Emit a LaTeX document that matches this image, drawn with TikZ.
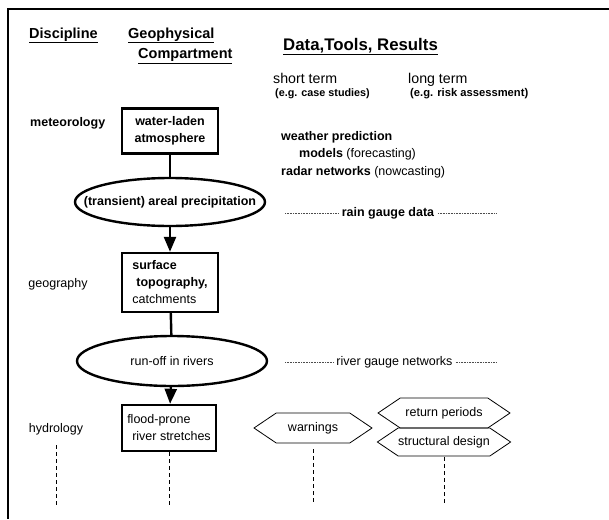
\documentclass[tikz,border=0pt]{standalone}
\usepackage{fontspec}
\setmainfont{Liberation Sans}
\usetikzlibrary{shapes.geometric,shapes.symbols,arrows.meta}

\begin{document}
\begin{tikzpicture}[x=1pt,y=-1pt,
	txt/.style={inner sep=0pt, font=\fontsize{12.5}{17}\selectfont},
	colhead/.style={inner sep=0pt, anchor=base west, font=\bfseries\fontsize{14.5}{21}\selectfont},
	comp/.style={draw, line width=2.4pt, inner sep=0pt, font=\fontsize{12.5}{17}\selectfont},
	flow/.style={draw, ellipse, line width=2.4pt, inner sep=0pt, minimum width=190pt, font=\fontsize{12.5}{17}\selectfont},
	hex/.style={draw, signal, signal to=west and east, signal pointer angle=68, line width=0.8pt, inner sep=0pt, minimum width=132pt, minimum height=29pt, font=\fontsize{12.5}{17}\selectfont},
	link/.style={line width=2.4pt},
	flowarrow/.style={line width=2.4pt, -{Triangle[width=12pt,length=15pt]}},
	gauge/.style={densely dotted, line width=0.6pt, black!70},
	tail/.style={line width=0.8pt, dash pattern=on 4pt off 3pt}]
	\useasboundingbox (0,0) rectangle (609,519);
	%frame
	\draw[line width=2pt] (609,9) -- (8,9) -- (8,519);
	
	%headings
	\draw (29,38) node[colhead] (dis) {\underline{Discipline}};
	\draw (128,38) node[colhead] (geo) {\underline{Geophysical}};
	\draw (138,59) node[colhead] (cpt) {\underline{Compartment}};
	\draw (283,50) node[colhead, font=\bfseries\fontsize{16.8}{20}\selectfont] (dtr) {\underline{Data,Tools, Results}};
	% Text Node
	\draw (273,83) node[txt, anchor=base west, font=\fontsize{14.2}{17}\selectfont] (st) {short term};
	\draw (408,83) node[txt, anchor=base west, font=\fontsize{14.2}{17}\selectfont] (lt) {long term};
	\draw (275,96) node[txt, anchor=base west, font=\bfseries\fontsize{10.8}{13}\selectfont] (cs) {(e.g. case studies)};
	\draw (410,96) node[txt, anchor=base west, font=\bfseries\fontsize{11.2}{13}\selectfont] (ra) {(e.g. risk assessment)};
	
	%disciplines
	\draw (30,126) node[txt, anchor=base west, font=\bfseries\fontsize{12.5}{17}\selectfont] (met) {meteorology};
	\draw (58,284) node[txt] (geog) {geography};
	\draw (56,429) node[txt] (hyd) {hydrology};
	
	%compartments
	\draw (170,131) node[comp, minimum width=96pt, minimum height=45pt, align=center, font=\bfseries\fontsize{12.5}{17}\selectfont] (atm) {water-laden\\atmosphere};
	\draw (170,202) node[flow, minimum height=48pt, font=\bfseries\fontsize{12.5}{17}\selectfont] (prec) {\makebox[0pt]{(transient) areal precipitation}};
	\draw (170,282.5) node[comp, minimum width=96pt, minimum height=59pt, align=left] (topo) {\textbf{surface}\\\hspace*{4pt}\textbf{topography,}\\catchments};
	\draw (172,361) node[flow, minimum height=50pt] (run) {\makebox[0pt]{run-off in rivers}};
	\draw (169,428) node[comp, minimum width=94pt, minimum height=46pt, align=left] (riv) {flood-prone\\\hspace*{5pt}river stretches};
	
	\draw[link] (atm) -- (prec);
	\draw[flowarrow] (prec) -- (topo);
	\draw[link] (topo) -- (run);
	\draw[flowarrow] (run) -- (riv);
	
	%data, tools
	\draw (281,140) node[txt, anchor=base west, font=\bfseries\fontsize{12.5}{17}\selectfont] (wp) {weather prediction};
	\draw (299,157.5) node[txt, anchor=base west] (mod) {\textbf{models} (forecasting)};
	\draw (281,175.5) node[txt, anchor=base west] (rad) {\textbf{radar networks} (nowcasting)};
	
	\coordinate (rg0) at (285,213);
	\coordinate (rg1) at (497,213);
	\draw (388,213) node[txt, inner sep=3.5pt, font=\bfseries\fontsize{12.5}{17}\selectfont] (rain) {rain gauge data};
	\draw[gauge] (rg0) -- (rain.west);
	\draw[gauge] (rain.east) -- (rg1);
	
	\coordinate (gg0) at (285,362);
	\coordinate (gg1) at (496,362);
	\draw (394.5,362) node[txt, inner sep=3pt] (gauge) {river gauge networks};
	\draw[gauge] (gg0) -- (gauge.west);
	\draw[gauge] (gauge.east) -- (gg1);
	
	%results
	\draw (313,428) node[hex, minimum width=118pt, minimum height=30pt] (warn) {warnings};
	\draw (444,413) node[hex, minimum height=30pt] (ret) {return periods};
	\draw (444,442) node[hex, minimum height=28pt] (des) {structural design};
	
	%continuation
	\coordinate (bot) at (0,505);
	\draw[tail] ([yshift=-10pt]hyd.south) -- (hyd.south |- bot);
	\draw[tail] (riv.south) -- (riv.south |- bot);
	\draw[tail] ([yshift=-6pt]warn.south) -- (warn.south |- bot);
	\draw[tail] ([yshift=-1pt]des.south) -- (des.south |- bot);
\end{tikzpicture}
\end{document}
